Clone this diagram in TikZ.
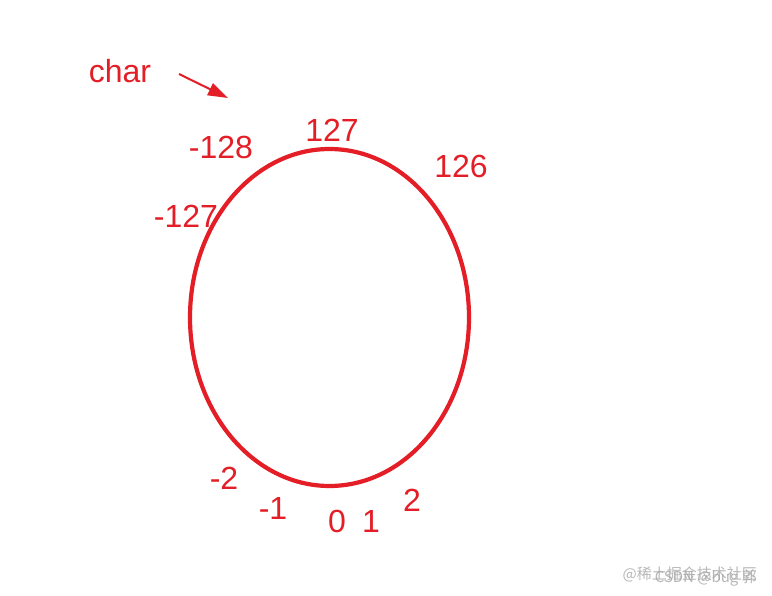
\documentclass[tikz,border=0pt]{standalone}
\usepackage{fontspec}
\setmainfont{Liberation Sans}
\newfontfamily\cjk{Noto Sans CJK SC}
\usetikzlibrary{arrows.meta}
\definecolor{ringred}{RGB}{228,30,38}
\tikzset{
  numlabel/.style={text=ringred, font=\fontsize{32}{32}\selectfont, inner sep=0pt},
  watermark/.style={text=gray!70, font=\cjk\fontsize{15}{15}\selectfont, inner sep=0pt, opacity=0.8}
}
\begin{document}
\begin{tikzpicture}[x=1pt,y=-1pt]
        \useasboundingbox[fill=white] (0,0) rectangle (772,596);
        %% the ring
        \draw[ringred,line width=4.2pt] (329.5,317.5) ellipse [x radius=139.5, y radius=168.5];
        %% label and pointer
        \node[numlabel] (char) at (120,71) {char};
        \coordinate (tail) at (179,74);
        \coordinate (tip) at (228,98);
        \draw[ringred,line width=2pt,-{Triangle[length=20pt,width=13pt]}] (tail) -- (tip);
        %% top values
        \node[numlabel] (m128) at (221,147) {-128};
        \node[numlabel] (p127) at (332,130) {127};
        \node[numlabel] (p126) at (461,166) {126};
        \node[numlabel] (m127) at (186,216) {-127};
        %% bottom values
        \node[numlabel] (m2) at (224,478) {-2};
        \node[numlabel] (m1) at (273,508) {-1};
        \node[numlabel] (z0) at (337,521) {0};
        \node[numlabel] (p1) at (371,521) {1};
        \node[numlabel] (p2) at (412,500) {2};
        %% watermark
        \node[watermark,anchor=east] (wmA) at (757,574) {@稀土掘金技术社区};
        \node[watermark,anchor=east] (wmB) at (757,578) {CSDN @bug 郭};
    \end{tikzpicture}
\end{document}
